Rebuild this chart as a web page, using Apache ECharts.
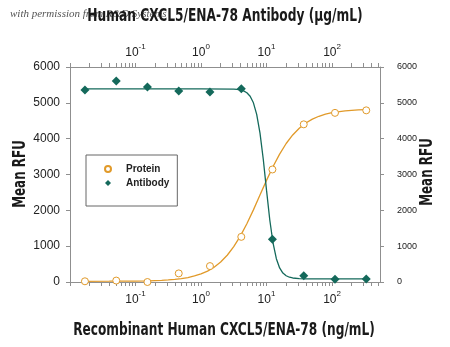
<!DOCTYPE html>
<html>
<head>
<meta charset="utf-8">
<script src="https://cdn.jsdelivr.net/npm/echarts@6/dist/echarts.min.js"></script>
<style>
  html, body { margin: 0; padding: 0; background: #fff; }
  #chart { width: 450px; height: 347px; }
</style>
</head>
<body>
<div id="chart"></div>
<script>
// Concentrations of the 3-fold dilution series (ng/mL)
const concentrations = [0.0169, 0.0508, 0.152, 0.457, 1.37, 4.12, 12.3, 37.0, 111, 333];
// Measured responses (Mean RFU)
const proteinRFU  = [20, 40, 0, 240, 444, 1260, 3140, 4400, 4720, 4790];
const antibodyRFU = [5360, 5610, 5440, 5330, 5300, 5390, 1190, 175, 80, 85];

// Fitted dose-response curves: concentration, Mean RFU
const proteinFitX = [0.0158, 0.0398, 0.1, 0.158, 0.251, 0.316, 0.398, 0.501, 0.631, 0.794,
  1.0, 1.259, 1.585, 1.995, 2.512, 3.162, 3.981, 5.012, 6.310, 7.943,
  10.0, 12.59, 15.85, 19.95, 25.12, 31.62, 39.81, 50.12, 63.10, 79.43,
  100, 158.5, 251.2, 331];
const proteinFitY = [20, 22, 27, 34, 47, 58, 73, 95, 125, 168,
  226, 305, 414, 558, 747, 986, 1279, 1626, 2013, 2425,
  2836, 3225, 3570, 3865, 4103, 4292, 4437, 4545, 4625, 4683,
  4725, 4777, 4803, 4812];
const antibodyFitX = [0.0158, 0.1, 1.0, 3.162, 3.548, 3.981, 4.467, 5.012, 5.623, 6.310,
  7.079, 7.943, 8.913, 10.0, 11.22, 12.59, 14.13, 15.85, 17.78, 19.95,
  22.39, 25.12, 31.62, 39.81, 100, 331];
const antibodyFitY = [5390, 5390, 5390, 5382, 5375, 5361, 5334, 5281, 5183, 5000,
  4679, 4161, 3432, 2563, 1731, 1082, 650, 393, 250, 174,
  133, 112, 96, 90, 90, 90];

// Axis ticks: decade labels plus 2..9 minor positions
const decadeLabels = [0.1, 1, 10, 100];
const logTicks = [];
[0.01, 0.1, 1, 10, 100].forEach(d => {
  for (let m = 1; m <= 9; m++) {
    const v = +(d * m).toPrecision(3);
    if (v >= 0.01 && v <= 540) logTicks.push(v);
  }
});
const rfuMax = 6000;
const rfuStep = 1000;

const TEAL = '#14695b';
const ORANGE = '#e19a2a';
const AXIS = '#8f8f8f';
const FONT = "'Liberation Sans', Arial, sans-serif";
const TITLE_FONT = "bold 17px 'DejaVu Sans Condensed', 'DejaVu Sans', sans-serif";

const pairs = (xs, ys) => xs.map((x, i) => [x, ys[i]]);

function decadeFormatter(v) {
  const e = Math.round(Math.log10(v));
  return '{b|10}{s|' + e + '}';
}
const decadeRich = {
  b: { fontSize: 12, fontFamily: FONT, color: '#222', lineHeight: 16, verticalAlign: 'bottom' },
  s: { fontSize: 8, fontFamily: FONT, color: '#222', lineHeight: 16, verticalAlign: 'top', padding: [0, 0, 6, 0] }
};

function logAxis(position) {
  return {
    type: 'log',
    position: position,
    logBase: 10,
    min: 0.01,
    max: 540,
    axisLine: { show: true, onZero: false, lineStyle: { color: AXIS, width: 1 } },
    axisTick: { show: true, inside: false, length: 4, customValues: logTicks, lineStyle: { color: AXIS } },
    minorTick: { show: false },
    splitLine: { show: false },
    axisLabel: {
      show: true, customValues: decadeLabels, margin: 8,
      formatter: decadeFormatter, rich: decadeRich
    }
  };
}

function rfuAxis(position, fontSize, margin) {
  return {
    type: 'value',
    position: position,
    min: 0, max: rfuMax, interval: rfuStep,
    axisLine: { show: true, lineStyle: { color: AXIS, width: 1 } },
    axisTick: { show: true, inside: false, length: 4, lineStyle: { color: AXIS } },
    splitLine: { show: false },
    axisLabel: {
      fontSize: fontSize, fontFamily: FONT, color: '#222', margin: margin,
      formatter: v => String(v)
    }
  };
}

const chart = echarts.init(document.getElementById('chart'), null, { renderer: 'canvas' });

chart.setOption({
  animation: false,
  backgroundColor: '#fff',
  grid: { left: 70, top: 67, width: 310, height: 215 },
  xAxis: [logAxis('bottom'), logAxis('top')],
  yAxis: [rfuAxis('left', 12, 10), rfuAxis('right', 9, 17)],
  legend: {
    orient: 'vertical',
    left: 86, top: 155,
    data: ['Protein', 'Antibody'],
    borderColor: '#666', borderWidth: 1,
    padding: [9, 8, 18, 18],
    itemGap: 4, itemWidth: 6, itemHeight: 6,
    textStyle: { fontFamily: FONT, fontSize: 10, fontWeight: 'bold', color: '#222', padding: [0, 0, 0, 10], lineHeight: 10 }
  },
  graphic: [
    { type: 'text', x: 10, y: 9, z: 1,
      style: { text: 'with permission from R&D Systems', font: "italic 11px 'Liberation Serif', serif", fill: '#555' } },
    { type: 'text', x: 225, y: 17, scaleX: 0.8, z: 5,
      style: { text: 'Human CXCL5/ENA-78 Antibody (\u00b5g/mL)', font: TITLE_FONT, fill: '#1a1a1a', align: 'center', verticalAlign: 'middle' } },
    { type: 'text', x: 224, y: 331, scaleX: 0.795,
      style: { text: 'Recombinant Human CXCL5/ENA-78 (ng/mL)', font: TITLE_FONT, fill: '#1a1a1a', align: 'center', verticalAlign: 'middle' } },
    { type: 'text', x: 21, y: 174, rotation: Math.PI / 2, scaleX: 0.78,
      style: { text: 'Mean RFU', font: TITLE_FONT, fill: '#1a1a1a', align: 'center', verticalAlign: 'middle' } },
    { type: 'text', x: 428, y: 172, rotation: Math.PI / 2, scaleX: 0.78,
      style: { text: 'Mean RFU', font: TITLE_FONT, fill: '#1a1a1a', align: 'center', verticalAlign: 'middle' } }
  ],
  series: [
    { name: 'Protein fit', type: 'line', data: pairs(proteinFitX, proteinFitY),
      showSymbol: false, smooth: false, silent: true,
      lineStyle: { color: ORANGE, width: 1.3 } },
    { name: 'Antibody fit', type: 'line', data: pairs(antibodyFitX, antibodyFitY),
      showSymbol: false, smooth: false, silent: true,
      lineStyle: { color: TEAL, width: 1.3 } },
    { name: 'Protein', type: 'scatter', data: pairs(concentrations, proteinRFU),
      symbol: 'circle', symbolSize: 7, z: 4,
      itemStyle: { color: '#fff', borderColor: ORANGE, borderWidth: 1, opacity: 1 } },
    { name: 'Antibody', type: 'scatter', data: pairs(concentrations, antibodyRFU),
      symbol: 'diamond', symbolSize: 9, z: 4,
      itemStyle: { color: TEAL, opacity: 1 } }
  ]
});
</script>
</body>
</html>
